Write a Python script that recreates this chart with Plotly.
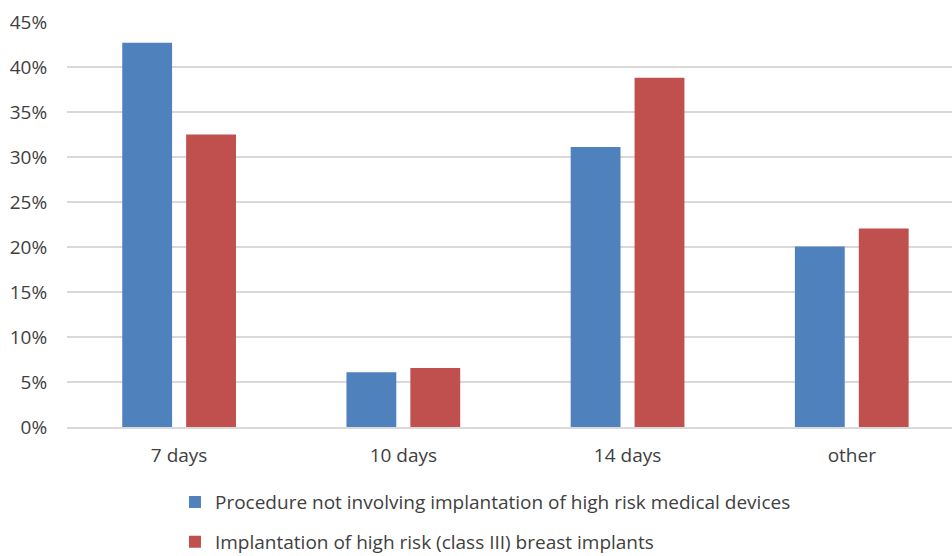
import plotly.graph_objects as go

# Share of patients by follow-up interval
categories = ["7 days", "10 days", "14 days", "other"]
series_names = [
    "Procedure not involving implantation of high risk medical devices",
    "Implantation of high risk (class III) breast implants",
]
procedure_vals = [0.427, 0.0607, 0.311, 0.2005]
implant_vals = [0.325, 0.0656, 0.388, 0.2206]
y_ticks = [0, 0.05, 0.10, 0.15, 0.20, 0.25, 0.30, 0.35, 0.40, 0.45]
y_tick_labels = ["0%", "5%", "10%", "15%", "20%", "25%", "30%", "35%", "40%", "45%"]

colors = ["#4f81bd", "#c0504d"]
font_family = "Open Sans, Liberation Sans, sans-serif"

fig = go.Figure()
for i, (name, vals) in enumerate(zip(series_names, [procedure_vals, implant_vals])):
    fig.add_trace(go.Bar(
        x=categories, y=vals, name=name,
        marker=dict(color=colors[i], line=dict(width=0)),
        legendgroup=f"g{i}",
    ))

fig.update_layout(
    width=952, height=556,
    margin=dict(l=67, r=0, t=22, b=129, autoexpand=False),
    paper_bgcolor="white", plot_bgcolor="white",
    barmode="group", bargap=0.43, bargroupgap=0.22,
    font=dict(family=font_family, color="#404040", size=19),
    showlegend=True,
    legend=dict(
        orientation="v", x=0.122, xanchor="left",
        yref="container", y=0.131, yanchor="top",
        font=dict(size=19, color="#404040"),
        tracegroupgap=12, traceorder="grouped",
        itemwidth=30,
    ),
    xaxis=dict(
        range=[-0.5, 3.447],
        showgrid=False, zeroline=False, showline=True,
        linecolor="#d9d9d9", linewidth=1.5,
        ticks="outside", ticklen=10, tickcolor="rgba(0,0,0,0)",
        tickfont=dict(size=19, color="#404040"),
    ),
    yaxis=dict(
        range=[0, 0.45], tickvals=y_ticks, ticktext=y_tick_labels,
        showgrid=True, gridcolor="#d9d9d9", gridwidth=1.5,
        zeroline=False, showline=False,
        ticks="outside", ticklen=15, tickcolor="rgba(0,0,0,0)",
        tickfont=dict(size=19, color="#404040"),
    ),
)

fig.write_html("out.html")
